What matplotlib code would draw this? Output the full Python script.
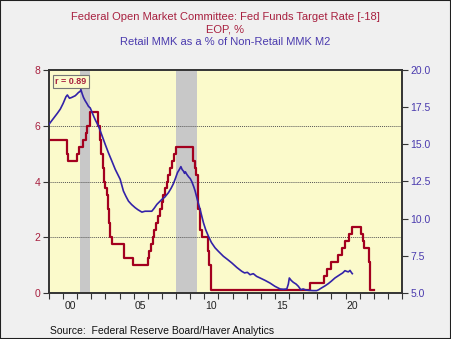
import matplotlib
matplotlib.use("Agg")
import matplotlib.pyplot as plt
import numpy as np
import pandas as pd
from matplotlib.patches import Rectangle

plt.rcParams['font.family'] = ['Liberation Sans', 'DejaVu Sans']

# Fed funds target rate (midpoint), actual change dates; plotted shifted +18 months
ff_dates = ["1997-03-25", "1998-09-29", "1998-10-15", "1998-11-17", "1999-06-30", "1999-08-24",
            "1999-11-16", "2000-02-02", "2000-03-21", "2000-05-16", "2001-01-03", "2001-01-31",
            "2001-03-20", "2001-04-18", "2001-05-15", "2001-06-27", "2001-08-21", "2001-09-17",
            "2001-10-02", "2001-11-06", "2001-12-11", "2002-11-06", "2003-06-25", "2004-06-30",
            "2004-08-10", "2004-09-21", "2004-11-10", "2004-12-14", "2005-02-02", "2005-03-22",
            "2005-05-03", "2005-06-30", "2005-08-09", "2005-09-20", "2005-11-01", "2005-12-13",
            "2006-01-31", "2006-03-28", "2006-05-10", "2006-06-29", "2007-09-18", "2007-10-31",
            "2007-12-11", "2008-01-22", "2008-01-30", "2008-03-18", "2008-04-30", "2008-10-08",
            "2008-10-29", "2008-12-16", "2015-12-16", "2016-12-14", "2017-03-15", "2017-06-14",
            "2017-12-13", "2018-03-21", "2018-06-13", "2018-09-26", "2018-12-19", "2019-07-31",
            "2019-09-18", "2019-10-30", "2020-03-03", "2020-03-15", "2020-06-30"]
ff_values = [5.50, 5.25, 5.00, 4.75, 5.00, 5.25,
             5.50, 5.75, 6.00, 6.50, 6.00, 5.50,
             5.00, 4.50, 4.00, 3.75, 3.50, 3.00,
             2.50, 2.00, 1.75, 1.25, 1.00, 1.25,
             1.50, 1.75, 2.00, 2.25, 2.50, 2.75,
             3.00, 3.25, 3.50, 3.75, 4.00, 4.25,
             4.50, 4.75, 5.00, 5.25, 4.75, 4.50,
             4.25, 3.50, 3.00, 2.25, 2.00, 1.50,
             1.00, 0.125, 0.375, 0.625, 0.875, 1.125,
             1.375, 1.625, 1.875, 2.125, 2.375, 2.125,
             1.875, 1.625, 1.125, 0.125, 0.125]
lead_years = 1.5

# Retail MMK as % of non-retail MMK M2
mmk_years = [1999.0, 1999.2, 1999.44, 1999.6, 1999.8, 2000.0, 2000.2, 2000.3, 2000.45, 2000.6,
             2000.86, 2001.0, 2001.1, 2001.2, 2001.26, 2001.35, 2001.44, 2001.55, 2001.68, 2001.8,
             2001.92, 2002.05, 2002.15, 2002.3, 2002.5, 2002.75, 2002.98, 2003.2, 2003.45, 2003.69,
             2004.04, 2004.27, 2004.45, 2004.63, 2004.85, 2005.1, 2005.3, 2005.58, 2005.8, 2006.04,
             2006.28, 2006.45, 2006.64, 2006.87, 2007.0, 2007.2, 2007.46, 2007.65, 2007.81, 2007.95,
             2008.1, 2008.24, 2008.34, 2008.43, 2008.52, 2008.6, 2008.66, 2008.76, 2008.9, 2009.0,
             2009.11, 2009.25, 2009.35, 2009.5, 2009.7, 2009.94, 2010.1, 2010.29, 2010.5, 2010.76,
             2011.0, 2011.35, 2011.65, 2011.95, 2012.3, 2012.65, 2012.85, 2013.05, 2013.24, 2013.47,
             2013.7, 2013.95, 2014.3, 2014.65, 2015.0, 2015.37, 2015.6, 2015.84, 2015.95, 2016.02,
             2016.15, 2016.3, 2016.5, 2016.66, 2016.83, 2017.0, 2017.2, 2017.37, 2017.7, 2017.96,
             2018.1, 2018.3, 2018.55, 2018.78, 2019.0, 2019.25, 2019.6, 2019.8, 2019.96, 2020.1,
             2020.2, 2020.32, 2020.4, 2020.48]
mmk_values = [16.35, 16.6, 16.9, 17.1, 17.37, 17.75, 18.2, 18.32, 18.1, 18.15,
              18.27, 18.4, 18.5, 18.55, 18.68, 18.4, 18.16, 17.95, 17.75, 17.55,
              17.45, 17.15, 16.92, 16.6, 16.24, 15.6, 15.0, 14.45, 13.88, 13.32,
              12.65, 11.86, 11.5, 11.18, 10.95, 10.74, 10.6, 10.44, 10.5, 10.5,
              10.5, 10.7, 10.96, 11.18, 11.3, 11.45, 11.75, 12.05, 12.35, 12.7,
              13.1, 13.32, 13.5, 13.3, 13.2, 13.05, 13.15, 12.98, 12.8, 12.7,
              12.5, 12.15, 11.86, 11.3, 10.62, 9.72, 9.25, 8.82, 8.4, 8.04,
              7.8, 7.47, 7.25, 7.02, 6.72, 6.46, 6.35, 6.39, 6.23, 6.3,
              6.12, 6.01, 5.85, 5.67, 5.45, 5.27, 5.25, 5.27, 5.6, 6.01,
              5.85, 5.72, 5.6, 5.45, 5.22, 5.27, 5.2, 5.18, 5.16, 5.16,
              5.22, 5.34, 5.48, 5.63, 5.8, 6.01, 6.23, 6.35, 6.5, 6.45,
              6.42, 6.52, 6.4, 6.3]

recessions = [(2001.21, 2001.87), (2007.98, 2009.47)]
year_labels = ["00", "05", "10", "15", "20"]
label_years = [2000, 2005, 2010, 2015, 2020]
left_ticks = [0, 2, 4, 6, 8]
right_ticks = [5.0, 7.5, 10.0, 12.5, 15.0, 17.5, 20.0]

RED = "#A3001E"
BLUE = "#3322A8"
RED_TXT = "#A8203F"
BLUE_TXT = "#4A3AAE"

fig = plt.figure(figsize=(4.51, 3.39), dpi=100)
fig.patch.set_facecolor("#F0F0F0")
fig.patches.append(Rectangle((0, 0), 1, 1, transform=fig.transFigure, fill=False,
                             edgecolor="#202020", linewidth=1.5))

ax = fig.add_axes([49/451, 1-293/339, (402-49)/451, (293-70)/339])
ax.set_facecolor("#FBFACB")
ax.set_xlim(1999.0, 2024.0)
ax.set_ylim(0, 8)

for a, b in recessions:
    ax.axvspan(a, b, color="#C8C8C8", lw=0, zorder=1)
for g in [2, 4, 6]:
    ax.axhline(g, color="#555555", lw=0.7, ls=(0, (1, 1)), zorder=2)

ff_x = pd.to_datetime(pd.Series(ff_dates))
ff_x = (ff_x.dt.year + (ff_x.dt.dayofyear - 1) / 365.25 + lead_years).to_numpy()
ax.plot(ff_x, ff_values, drawstyle="steps-post", color=RED, lw=1.6, zorder=4)

ax2 = ax.twinx()
ax2.set_ylim(5, 20)
ax2.plot(mmk_years, mmk_values, color=BLUE, lw=1.2, zorder=3)

ax.set_yticks(left_ticks)
ax.set_yticklabels([str(t) for t in left_ticks])
ax2.set_yticks(right_ticks)
ax2.set_yticklabels([f"{t:.1f}" for t in right_ticks])

ax.set_xticks(np.arange(1999, 2025, 1))
ax.set_xticklabels([])
ax.set_xticks([y + 0.5 for y in label_years], minor=True)
ax.set_xticklabels(year_labels, minor=True)
ax.tick_params(axis="x", which="major", direction="out", length=4, width=0.8, color="#333333")
ax.tick_params(axis="x", which="minor", length=0, pad=6, labelsize=7.5, labelcolor="#222222")
ax.tick_params(axis="y", direction="out", length=4, width=0.8, color="#333333",
               labelsize=7.5, labelcolor=RED_TXT, pad=2)
ax2.tick_params(axis="y", direction="out", length=4, width=0.8, color="#333333",
                labelsize=7.5, labelcolor=BLUE_TXT, pad=2)
for a in (ax, ax2):
    for s in a.spines.values():
        s.set_color("#333333")
        s.set_linewidth(1.2)

ax.text(0.018, 0.968, "r = 0.89", transform=ax.transAxes, fontsize=6.5, fontweight="bold",
        color=RED_TXT, va="top", ha="left", zorder=6,
        bbox=dict(boxstyle="square,pad=0.25", facecolor="#FBFACB", edgecolor="#777777", lw=0.8))

fig.text(0.5, 1-17/339, "Federal Open Market Committee: Fed Funds Target Rate [-18]",
         ha="center", va="center", fontsize=8, color=RED_TXT)
fig.text(0.5, 1-29/339, "EOP, %", ha="center", va="center", fontsize=8, color=RED_TXT)
fig.text(0.5, 1-42/339, "Retail MMK as a % of Non-Retail MMK M2",
         ha="center", va="center", fontsize=8, color=BLUE_TXT)
fig.text(50/451, 1-331/339, "Source:  Federal Reserve Board/Haver Analytics",
         ha="left", va="center", fontsize=7.5, color="#111111")

fig.savefig("out.png", dpi=100, facecolor=fig.get_facecolor())
